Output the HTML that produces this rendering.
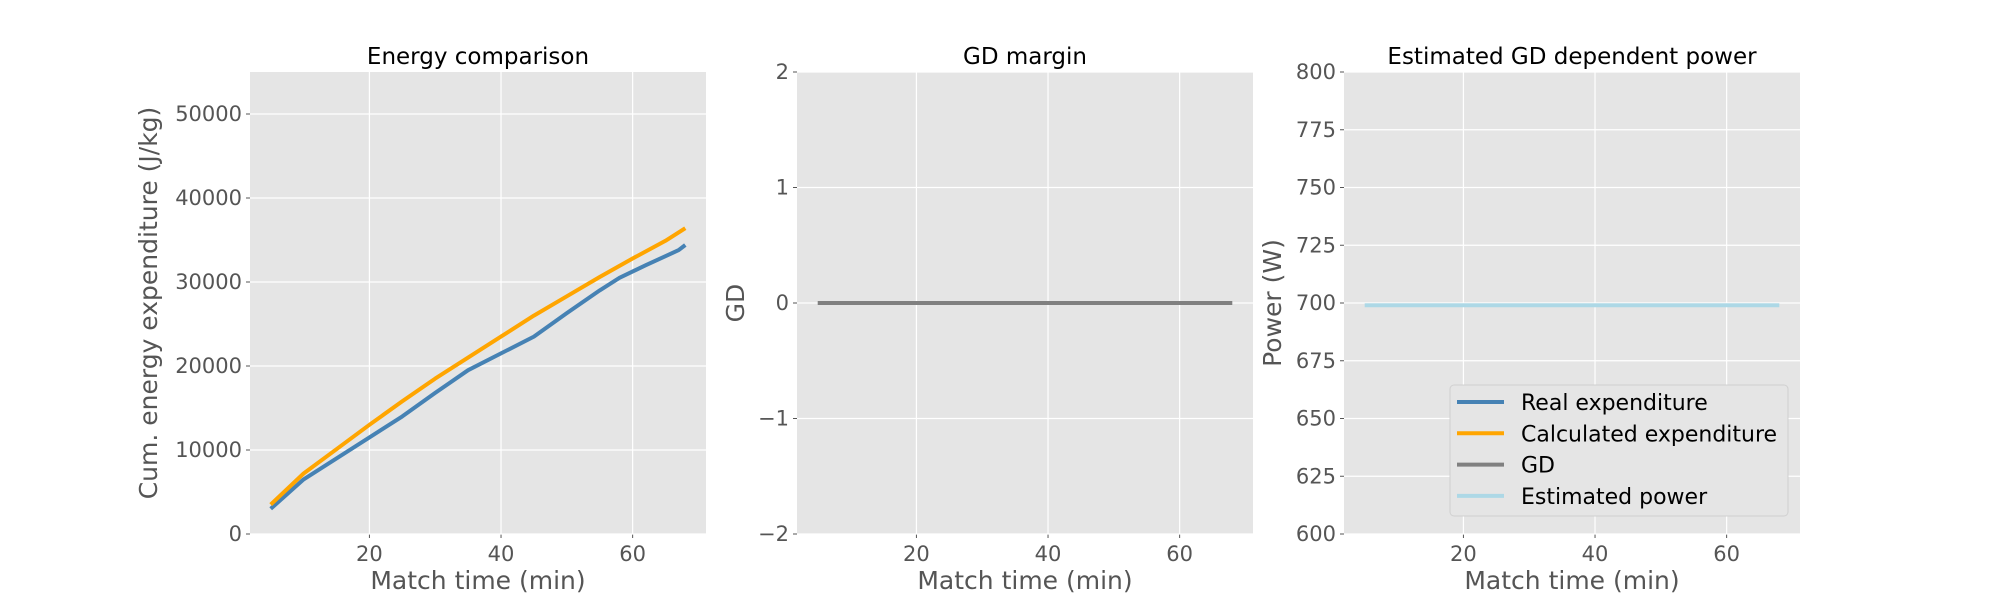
<!DOCTYPE html>
<html><head><meta charset="utf-8"><style>
body{margin:0;background:#fff;width:2000px;height:600px;overflow:hidden}
svg{font-family:"DejaVu Sans","Liberation Sans",sans-serif}
</style></head><body>
<svg id="chart" width="2000" height="600" xmlns="http://www.w3.org/2000/svg"></svg>
<script>
const realX=[5,10,15,20,25,30,35,40,45,50,55,58,62,67,68];
const realY=[3000,6500,9000,11500,14000,16800,19500,21500,23500,26300,29000,30500,32000,33800,34400];
const calcX=[5,10,15,20,25,30,35,40,45,50,55,60,65,68];
const calcY=[3500,7200,10100,13000,15800,18500,21000,23500,26000,28300,30600,32800,34900,36400];
const gdX=[5,68];
const gdY=[0,0];
const powX=[5,68];
const powY=[699,699];
const xTicks=[20,40,60];
const y1Ticks=[0,10000,20000,30000,40000,50000];
const y2Ticks=[-2,-1,0,1,2];
const y3Ticks=[600,625,650,675,700,725,750,775,800];
const y2Labels=["\u22122","\u22121","0","1","2"];

const NS="http://www.w3.org/2000/svg";
const svg=document.getElementById('chart');
function mk(tag,attrs,parent){const e=document.createElementNS(NS,tag);for(const k in attrs)e.setAttribute(k,attrs[k]);(parent||svg).appendChild(e);return e;}
const topY=72,bot=534,xmin=1.85,xmax=71.15;

function panel(name,left,right,ymin,ymax,yt,ylabels,title,ylabel,ylabX,series){
  const g=mk('g',{});
  
  
  const sx=v=>left+(v-xmin)/(xmax-xmin)*(right-left);
  const sy=v=>bot-(v-ymin)/(ymax-ymin)*(bot-topY);
  const bg=mk('rect',{x:left,y:topY,width:right-left,height:bot-topY,fill:'#e5e5e5'},g);
  
  
  xTicks.forEach(t=>{
    const x=sx(t);
    mk('line',{x1:x,x2:x,y1:topY,y2:bot,stroke:'#fff','stroke-width':1.2},g);
    mk('line',{x1:x,x2:x,y1:bot,y2:bot+4,stroke:'#555','stroke-width':1},g);
    const tx=mk('text',{x:x,y:bot+27,'text-anchor':'middle','font-size':21,fill:'#555'},g);
    tx.textContent=t;
    
    
  });
  yt.forEach((t,i)=>{
    const y=sy(t);
    mk('line',{x1:left,x2:right,y1:y,y2:y,stroke:'#fff','stroke-width':1.2},g);
    mk('line',{x1:left-4,x2:left,y1:y,y2:y,stroke:'#555','stroke-width':1},g);
    const tx=mk('text',{x:left-8,y:y+7,'text-anchor':'end','font-size':21,fill:'#555'},g);
    tx.textContent=ylabels?ylabels[i]:t;
    
    
  });
  const tt=mk('text',{x:(left+right)/2,y:64,'text-anchor':'middle','font-size':23,fill:'#000'},g);
  tt.textContent=title;
  
  
  const xl=mk('text',{x:(left+right)/2,y:589,'text-anchor':'middle','font-size':25,fill:'#555'},g);
  xl.textContent='Match time (min)';
  
  
  const cy=(topY+bot)/2;
  const yl=mk('text',{x:ylabX,y:cy,'text-anchor':'middle','font-size':25,fill:'#555',transform:`rotate(-90 ${ylabX} ${cy})`},g);
  yl.textContent=ylabel;
  
  
  series.forEach(s=>{
    const pts=s.x.map((v,i)=>sx(v).toFixed(1)+','+sy(s.y[i]).toFixed(1)).join(' ');
    const pl=mk('polyline',{points:pts,fill:'none',stroke:s.c,'stroke-width':4,'stroke-linejoin':'round'},g);
    
    
  });
}
panel('energy-panel',250,706,0,55000,y1Ticks,null,'Energy comparison','Cum. energy expenditure (J/kg)',157,
  [{x:realX,y:realY,c:'#4682b4',n:'real-expenditure-line'},{x:calcX,y:calcY,c:'#ffa500',n:'calculated-expenditure-line'}]);
panel('gd-panel',797,1253,-2,2,y2Ticks,y2Labels,'GD margin','GD',744,
  [{x:gdX,y:gdY,c:'#808080',n:'gd-line'}]);
panel('power-panel',1344,1800,600,800,y3Ticks,null,'Estimated GD dependent power','Power (W)',1281,
  [{x:powX,y:powY,c:'#add8e6',n:'estimated-power-line'}]);

const lg=mk('g',{});


mk('rect',{x:1450,y:385,width:338,height:131,rx:4,fill:'#e5e5e5',stroke:'#d0d0d0','stroke-width':1},lg);
const items=[['Real expenditure','#4682b4'],['Calculated expenditure','#ffa500'],['GD','#808080'],['Estimated power','#add8e6']];
items.forEach((it,i)=>{
  const y=402+i*31.3;
  const e=mk('g',{},lg);
  
  
  mk('line',{x1:1457,x2:1504,y1:y,y2:y,stroke:it[1],'stroke-width':4},e);
  const t=mk('text',{x:1521,y:y+8,'font-size':22,fill:'#000'},e);
  t.textContent=it[0];
});
</script>
</body></html>
